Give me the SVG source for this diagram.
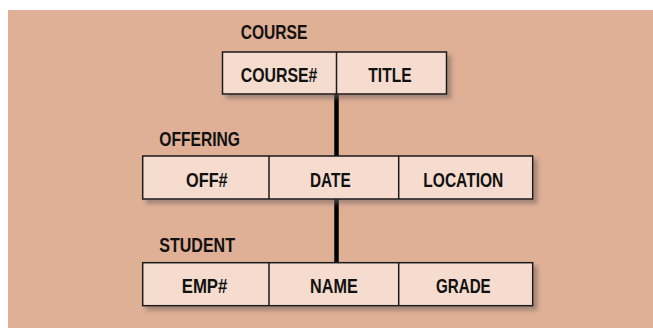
<svg xmlns="http://www.w3.org/2000/svg" width="653" height="328" viewBox="0 0 653 328">
  <defs>
    <filter id="shadow" x="-10%" y="-20%" width="130%" height="160%">
      <feDropShadow dx="4" dy="4" stdDeviation="2" flood-color="#6e625c" flood-opacity="0.55"/>
    </filter>
    <style>
      .bg { fill: #DFAF96; }
      .box { fill: #F5DCCE; stroke: #1a1a1a; stroke-width: 1.5; filter: url(#shadow); }
      .div { stroke: #1a1a1a; stroke-width: 1.5; }
      .link { stroke: #000; stroke-width: 4.5; }
      text { font-family: "Liberation Sans", Arial, sans-serif; font-weight: bold; font-size: 21px; fill: #111; }
    </style>
  </defs>

  <rect class="bg" x="8" y="10" width="645" height="318"/>

  <!-- relationship lines between record types -->
  <g id="connectors">
    <line class="link" x1="336.5" y1="94" x2="336.5" y2="156"/>
    <line class="link" x1="336.5" y1="199" x2="336.5" y2="263"/>
  </g>

  <!-- COURSE record -->
  <g id="course">
    <text x="240.7" y="38.6" textLength="66.7" lengthAdjust="spacingAndGlyphs">COURSE</text>
    <rect class="box" x="222.5" y="52" width="224" height="42"/>
    <line class="div" x1="336.5" y1="52" x2="336.5" y2="94"/>
    <text x="240.7" y="82.2" textLength="76.7" lengthAdjust="spacingAndGlyphs">COURSE#</text>
    <text x="368.3" y="82.2" textLength="43.3" lengthAdjust="spacingAndGlyphs">TITLE</text>
  </g>

  <!-- OFFERING record -->
  <g id="offering">
    <text x="159.3" y="146" textLength="80.7" lengthAdjust="spacingAndGlyphs">OFFERING</text>
    <rect class="box" x="142.7" y="156" width="390" height="43"/>
    <line class="div" x1="269" y1="156" x2="269" y2="199"/>
    <line class="div" x1="398.7" y1="156" x2="398.7" y2="199"/>
    <text x="186" y="187" textLength="41.7" lengthAdjust="spacingAndGlyphs">OFF#</text>
    <text x="310" y="187" textLength="40.7" lengthAdjust="spacingAndGlyphs">DATE</text>
    <text x="423.3" y="187" textLength="80" lengthAdjust="spacingAndGlyphs">LOCATION</text>
  </g>

  <!-- STUDENT record -->
  <g id="student">
    <text x="159.3" y="252" textLength="75.7" lengthAdjust="spacingAndGlyphs">STUDENT</text>
    <rect class="box" x="142.7" y="262.7" width="390" height="43"/>
    <line class="div" x1="269" y1="262.7" x2="269" y2="305.7"/>
    <line class="div" x1="398.7" y1="262.7" x2="398.7" y2="305.7"/>
    <text x="181.7" y="293" textLength="45.7" lengthAdjust="spacingAndGlyphs">EMP#</text>
    <text x="310" y="293" textLength="47.7" lengthAdjust="spacingAndGlyphs">NAME</text>
    <text x="436" y="293" textLength="54.7" lengthAdjust="spacingAndGlyphs">GRADE</text>
  </g>
</svg>
